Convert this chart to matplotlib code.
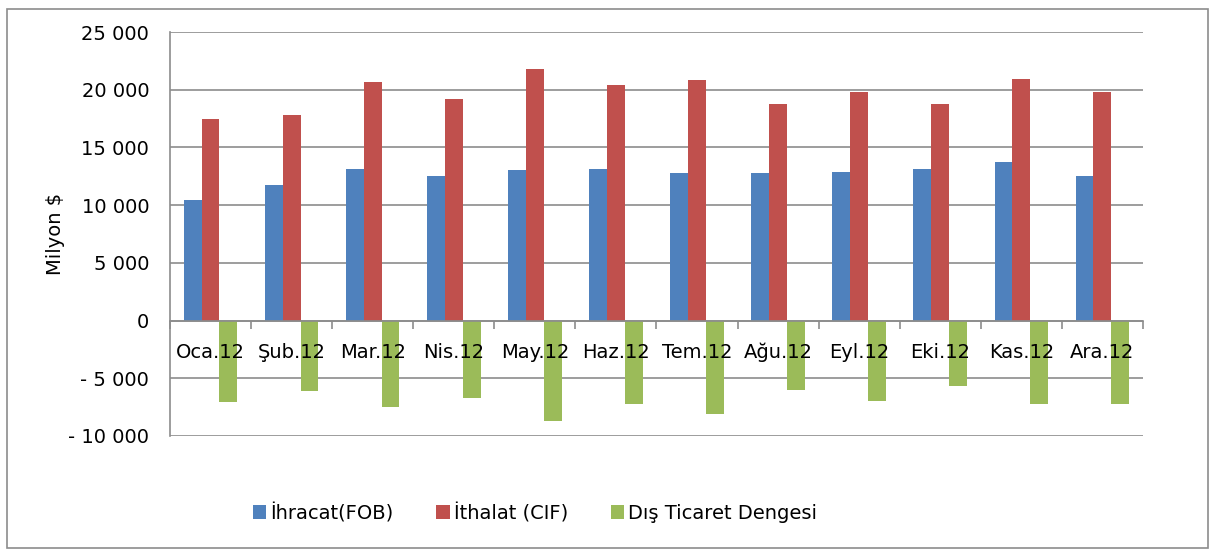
import numpy as np
import matplotlib.pyplot as plt
from matplotlib.patches import Rectangle

months = ['Oca.12', 'Şub.12', 'Mar.12', 'Nis.12', 'May.12', 'Haz.12',
          'Tem.12', 'Ağu.12', 'Eyl.12', 'Eki.12', 'Kas.12', 'Ara.12']
ihracat = [10420, 11720, 13140, 12560, 13020, 13140, 12790, 12790, 12900, 13140, 13750, 12560]
ithalat = [17420, 17770, 20690, 19220, 21760, 20430, 20840, 18760, 19820, 18760, 20930, 19820]
denge = [-7050, -6080, -7520, -6720, -8720, -7250, -8080, -6010, -6980, -5660, -7220, -7250]

plt.rcParams['font.family'] = ['DejaVu Sans']
fs = 14

fig = plt.figure(figsize=(12.15, 5.5), dpi=100)
ax = fig.add_axes([0.1399, 0.2073, 0.8008, 0.7345])

# outer chart border
fig.patches.append(Rectangle((7 / 1215, 2 / 550), 1201 / 1215, 539 / 550,
                             transform=fig.transFigure, fill=False,
                             edgecolor='#8c8c8c', linewidth=1.2))

x = np.arange(len(months))
w = 0.22
ax.bar(x - w, ihracat, w, color='#4F81BD', label='İhracat(FOB)', zorder=2)
ax.bar(x, ithalat, w, color='#C0504D', label='İthalat (CIF)', zorder=2)
ax.bar(x + w, denge, w, color='#9BBB59', label='Dış Ticaret Dengesi', zorder=2)

ax.set_xlim(-0.5, len(months) - 0.5)
ax.set_ylim(-10000, 25000)
ax.set_yticks(range(-10000, 25001, 5000))
ax.set_yticklabels([f'{v:,}'.replace(',', ' ').replace('-', '- ') for v in range(-10000, 25001, 5000)],
                   fontsize=fs)
ax.yaxis.grid(True, color='#8c8c8c', linewidth=1.2)
ax.yaxis.set_zorder(1)
ax.xaxis.set_zorder(5)
ax.tick_params(axis='y', length=0, pad=15)

ax.spines['top'].set_visible(False)
ax.spines['right'].set_visible(False)
ax.spines['left'].set_color('#8c8c8c')
ax.spines['left'].set_linewidth(1.2)
ax.spines['bottom'].set_position(('data', 0))
ax.spines['bottom'].set_color('#8c8c8c')
ax.spines['bottom'].set_linewidth(1.2)

ax.set_xticks(x)
ax.set_xticklabels(months, fontsize=fs)
ax.tick_params(axis='x', length=0, pad=16)
ax.set_xticks(np.arange(-0.5, len(months)), minor=True)
ax.tick_params(axis='x', which='minor', length=6, width=1.2, color='#8c8c8c', direction='out')

ax.set_ylabel('Milyon $', fontsize=fs, labelpad=2)

fig.legend(loc='center', bbox_to_anchor=(535 / 1215, 1 - 513 / 550), ncol=3, frameon=False,
           fontsize=fs, handlelength=0.7, handleheight=0.7, handletextpad=0.2, columnspacing=2.2)

fig.savefig('out.png', dpi=100)
